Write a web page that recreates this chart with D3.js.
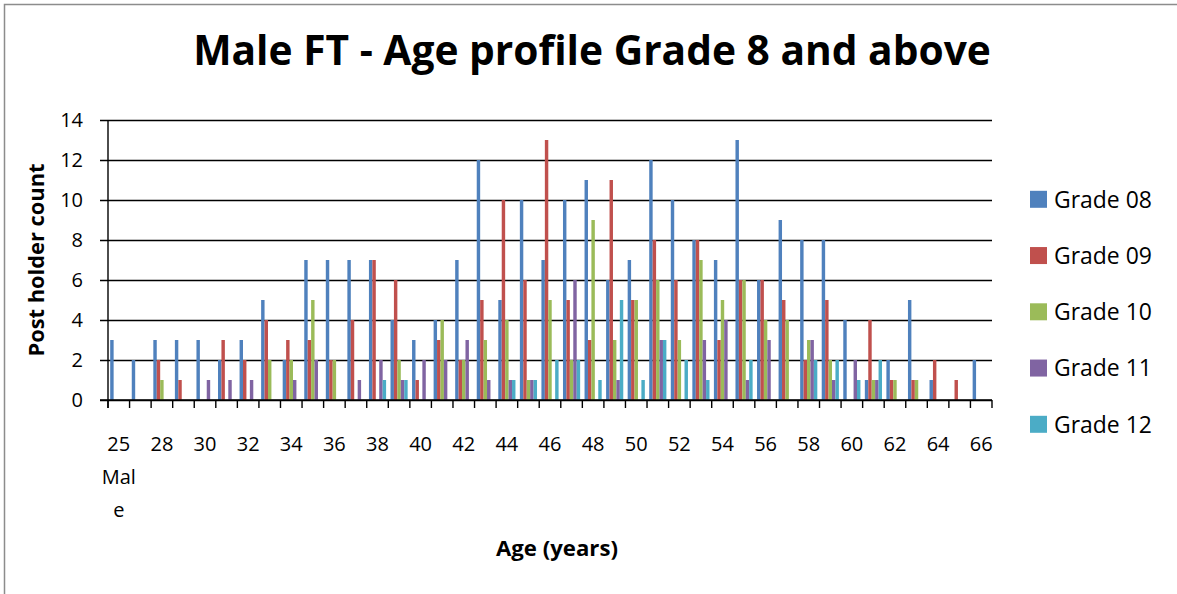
<!DOCTYPE html>
<html>
<head>
<meta charset="utf-8">
<script src="https://cdn.jsdelivr.net/npm/d3@7"></script>
<style>
  html, body { margin: 0; padding: 0; background: #fff; }
  svg { display: block; font-family: "Open Sans", "Liberation Sans", sans-serif; }
</style>
</head>
<body>
<svg id="chart" width="1177" height="594"></svg>
<script>
// ---- data ----
const categories = ["25 Male","27","28","29","30","31","32","33","34","35","36","37","38","39","40","41","42","43","44","45","46","47","48","49","50","51","52","53","54","55","56","57","58","59","60","61","62","63","64","65","66"];
const seriesNames = ["Grade 08","Grade 09","Grade 10","Grade 11","Grade 12"];
const grade08 = [3,2,3,3,3,2,3,5,2,7,7,7,7,4,3,4,7,12,5,10,7,10,11,6,7,12,10,8,7,13,6,9,8,8,4,1,2,5,1,0,2];
const grade09 = [0,0,2,1,0,3,2,4,3,3,2,4,7,6,1,3,2,5,10,6,13,5,3,11,5,8,6,8,3,6,6,5,2,5,0,4,1,1,2,1,0];
const grade10 = [0,0,1,0,0,0,0,2,2,5,2,0,0,2,0,4,2,3,4,1,5,2,9,3,5,6,3,7,5,6,4,4,3,2,0,1,1,1,0,0,0];
const grade11 = [0,0,0,0,1,1,1,0,1,2,0,1,2,1,2,2,3,1,1,1,0,6,0,1,0,3,0,3,4,1,3,0,3,1,2,1,0,0,0,0,0];
const grade12 = [0,0,0,0,0,0,0,0,0,0,0,0,1,1,0,0,0,0,1,1,2,2,1,5,1,3,2,1,0,2,0,0,2,2,1,2,0,0,0,0,0];
const yTicks = [0,2,4,6,8,10,12,14];
const titleText = "Male FT - Age profile Grade 8 and above";
const xTitle = "Age (years)";
const yTitle = "Post holder count";
const colors = ["#4F81BD","#C0504D","#9BBB59","#8064A2","#4BACC6"];

const seriesValues = [grade08, grade09, grade10, grade11, grade12];

// ---- layout ----
const svg = d3.select("#chart");
const plot = { left: 108, right: 992, top: 120, bottom: 400 };

// chart border
svg.append("rect")
  .attr("x", 4.5).attr("y", 4.5)
  .attr("width", 1200).attr("height", 620)
  .attr("fill", "none").attr("stroke", "#8c8c8c").attr("stroke-width", 1.5);

const x = d3.scaleBand().domain(d3.range(categories.length))
  .range([plot.left, plot.right]).paddingInner(0).paddingOuter(0);
const bw = x.bandwidth();
const xs = d3.scaleBand().domain(d3.range(seriesNames.length))
  .range([2.2, bw - 2.2]).padding(0);
const y = d3.scaleLinear().domain([0, 14]).range([plot.bottom, plot.top]);

// gridlines + y axis ticks
const yAxis = d3.axisLeft(y).tickValues(yTicks).tickSize(-(plot.right - plot.left)).tickSizeOuter(0).tickFormat("");
const gy = svg.append("g").attr("transform", `translate(${plot.left},0)`).call(yAxis);
gy.select(".domain").remove();
gy.selectAll(".tick line").attr("stroke", "#000").attr("stroke-width", 1.4).attr("x1", -8);

// bars
seriesValues.forEach((vals, s) => {
  svg.append("g").selectAll("rect").data(vals).join("rect")
    .attr("x", (d, i) => x(i) + xs(s))
    .attr("y", d => y(d))
    .attr("width", xs.bandwidth())
    .attr("height", d => y(0) - y(d))
    .attr("fill", colors[s]);
});

// y axis line
svg.append("line").attr("x1", plot.left).attr("x2", plot.left)
  .attr("y1", plot.top).attr("y2", plot.bottom + 8)
  .attr("stroke", "#000").attr("stroke-width", 1.4);
// x axis line
svg.append("line").attr("x1", plot.left - 8).attr("x2", plot.right)
  .attr("y1", plot.bottom).attr("y2", plot.bottom)
  .attr("stroke", "#000").attr("stroke-width", 1.4);
// x ticks at category boundaries
const bounds = d3.range(categories.length + 1).map(i => plot.left + i * bw);
svg.append("g").selectAll("line").data(bounds).join("line")
  .attr("x1", d => d).attr("x2", d => d)
  .attr("y1", plot.bottom).attr("y2", plot.bottom + 8)
  .attr("stroke", "#000").attr("stroke-width", 1.4);

// y tick labels
svg.append("g").selectAll("text").data(yTicks).join("text")
  .attr("x", 83).attr("y", d => y(d))
  .attr("dy", "0.36em")
  .attr("text-anchor", "end")
  .attr("font-size", 20)
  .attr("fill", "#000")
  .text(d => d);

// x tick labels (every other category)
const labelLines = { "25 Male": ["25", "Mal", "e"] };
const xl = svg.append("g");
categories.forEach((c, i) => {
  if (i % 2 !== 0) return;
  const lines = labelLines[c] || [c];
  const t = xl.append("text")
    .attr("x", x(i) + bw / 2).attr("y", 451)
    .attr("text-anchor", "middle").attr("font-size", 20).attr("fill", "#000");
  lines.forEach((ln, k) => {
    t.append("tspan").attr("x", x(i) + bw / 2).attr("y", 451 + k * 33).text(ln);
  });
});

// fit helper
function fitText(sel, targetWidth, baseSize) {
  sel.attr("font-size", baseSize);
  const w = sel.node().getComputedTextLength();
  sel.attr("font-size", baseSize * targetWidth / w);
}

// title
const title = svg.append("text").attr("x", 592).attr("y", 65)
  .attr("text-anchor", "middle").attr("font-weight", "bold").attr("fill", "#000")
  .text(titleText);
fitText(title, 798, 40);

// axis titles
const xt = svg.append("text").attr("x", 557).attr("y", 556)
  .attr("text-anchor", "middle").attr("font-weight", "bold").attr("fill", "#000")
  .text(xTitle);
fitText(xt, 122, 20);

const yt = svg.append("text")
  .attr("transform", "translate(44,260) rotate(-90)")
  .attr("text-anchor", "middle").attr("font-weight", "bold").attr("fill", "#000")
  .text(yTitle);
fitText(yt, 193, 20);

// legend
const leg = svg.append("g");
seriesNames.forEach((n, s) => {
  const cy = 199.3 + s * 56.25;
  leg.append("rect").attr("x", 1030).attr("y", cy - 8.5).attr("width", 17).attr("height", 17).attr("fill", colors[s]);
  const t = leg.append("text").attr("x", 1054).attr("y", cy).attr("dy", "0.36em").attr("fill", "#000").text(n);
  fitText(t, 98, 22);
});
</script>
</body>
</html>
